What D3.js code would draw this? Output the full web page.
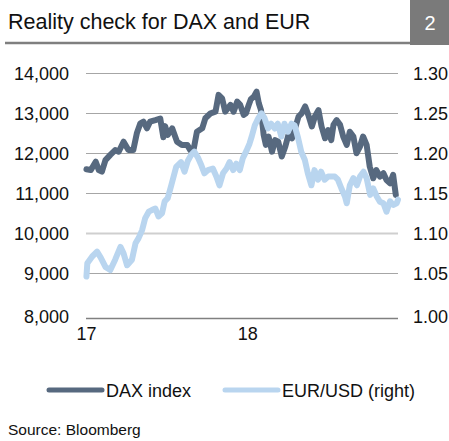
<!DOCTYPE html>
<html>
<head>
<meta charset="utf-8">
<script src="https://cdn.jsdelivr.net/npm/d3@7"></script>
<style>
  body { margin: 0; background: #fff; }
  svg { display: block; font-family: "Liberation Sans", Arial, sans-serif; }
</style>
</head>
<body>
<svg id="chart" width="449" height="441"></svg>
<script>
const WIDTH = 449;
const HEIGHT = 441;
const PLOT = { left: 86, right: 398, top: 73.3, bottom: 313.3, axis: 318.5 };
const DAX_COLOR = "#57697f";
const EUR_COLOR = "#b9d5ef";

const daxDates = ["2017-01-02","2017-01-12","2017-01-23","2017-01-30","2017-02-06","2017-02-14","2017-02-25","2017-03-08","2017-03-16","2017-03-27","2017-04-07","2017-04-18","2017-04-26","2017-05-04","2017-05-11","2017-05-19","2017-05-26","2017-06-07","2017-06-18","2017-06-25","2017-06-29","2017-07-05","2017-07-15","2017-07-26","2017-08-06","2017-08-18","2017-08-25","2017-09-02","2017-09-09","2017-09-21","2017-09-28","2017-10-10","2017-10-21","2017-10-28","2017-11-05","2017-11-12","2017-11-24","2017-12-01","2017-12-09","2017-12-16","2017-12-24","2017-12-29","2018-01-04","2018-01-09","2018-01-16","2018-01-22","2018-01-27","2018-02-01","2018-02-07","2018-02-12","2018-02-18","2018-02-26","2018-03-05","2018-03-12","2018-03-20","2018-03-28","2018-04-04","2018-04-12","2018-04-19","2018-04-27","2018-05-04","2018-05-12","2018-05-19","2018-05-27","2018-06-03","2018-06-11","2018-06-18","2018-06-26","2018-07-03","2018-07-10","2018-07-15","2018-07-22","2018-07-30","2018-08-06","2018-08-14","2018-08-21","2018-08-29","2018-09-05","2018-09-13","2018-09-20","2018-09-28","2018-10-05","2018-10-13","2018-10-20","2018-10-28","2018-11-05","2018-11-12","2018-11-20","2018-11-27","2018-12-03"];
const daxValues = [11600,11580,11790,11580,11540,11830,11960,12080,12040,12290,12080,12080,12500,12750,12790,12625,12790,12830,12870,12400,12680,12460,12625,12290,12210,12210,12080,12125,12540,12625,12875,13000,13040,13460,13375,13040,13210,13040,13290,13210,12960,13000,13200,13350,13420,13540,13250,13080,12460,12210,12420,12040,12330,12290,11920,12170,12460,12375,12625,12920,13000,13170,12960,12670,12920,13080,12670,12375,12580,12330,12710,12830,12710,12420,12210,12540,12420,12000,12170,12420,12210,11670,11375,11580,11420,11500,11330,11250,11460,10960];

const eurDates = ["2017-01-02","2017-01-04","2017-01-15","2017-01-26","2017-02-03","2017-02-14","2017-02-25","2017-03-08","2017-03-20","2017-03-27","2017-04-04","2017-04-15","2017-04-23","2017-04-30","2017-05-08","2017-05-15","2017-05-23","2017-05-30","2017-06-07","2017-06-14","2017-06-22","2017-06-28","2017-07-05","2017-07-13","2017-07-24","2017-08-04","2017-08-12","2017-08-19","2017-08-27","2017-09-03","2017-09-11","2017-09-19","2017-09-26","2017-10-04","2017-10-15","2017-10-23","2017-10-30","2017-11-07","2017-11-15","2017-11-22","2017-11-30","2017-12-07","2017-12-15","2017-12-22","2017-12-30","2018-01-06","2018-01-11","2018-01-18","2018-01-26","2018-02-02","2018-02-09","2018-02-17","2018-02-24","2018-03-04","2018-03-11","2018-03-19","2018-03-26","2018-04-03","2018-04-11","2018-04-18","2018-04-26","2018-05-03","2018-05-11","2018-05-18","2018-05-26","2018-06-02","2018-06-10","2018-06-17","2018-06-25","2018-07-03","2018-07-10","2018-07-18","2018-07-25","2018-08-02","2018-08-10","2018-08-14","2018-08-21","2018-08-29","2018-09-06","2018-09-13","2018-09-21","2018-09-28","2018-10-06","2018-10-13","2018-10-21","2018-10-28","2018-11-05","2018-11-12","2018-11-20","2018-11-27","2018-12-05","2018-12-08"];
const eurValues = [1.046,1.0625,1.071,1.077,1.070,1.058,1.054,1.067,1.083,1.075,1.060,1.067,1.0875,1.094,1.104,1.119,1.127,1.129,1.131,1.121,1.125,1.140,1.144,1.160,1.183,1.189,1.177,1.190,1.198,1.202,1.195,1.185,1.175,1.179,1.181,1.171,1.160,1.175,1.181,1.189,1.179,1.187,1.179,1.194,1.203,1.212,1.221,1.235,1.244,1.250,1.244,1.231,1.237,1.231,1.237,1.221,1.237,1.227,1.237,1.235,1.219,1.202,1.192,1.175,1.160,1.179,1.167,1.177,1.167,1.171,1.171,1.171,1.167,1.156,1.146,1.1375,1.160,1.169,1.160,1.171,1.177,1.169,1.148,1.156,1.146,1.1395,1.1375,1.127,1.140,1.1355,1.1375,1.142];

const leftTicks = [8000, 9000, 10000, 11000, 12000, 13000, 14000];
const rightTicks = [1.00, 1.05, 1.10, 1.15, 1.20, 1.25, 1.30];
const xTickDates = ["2017-01-01", "2018-01-01"];
const xTickLabels = ["17", "18"];

const title = "Reality check for DAX and EUR";
const chartNumber = "2";
const legendLabels = ["DAX index", "EUR/USD (right)"];
const source = "Source: Bloomberg";

const parse = d3.timeParse("%Y-%m-%d");
const dax = daxDates.map((d, i) => ({ date: parse(d), value: daxValues[i] }));
const eur = eurDates.map((d, i) => ({ date: parse(d), value: eurValues[i] }));

const svg = d3.select("#chart");

// header
svg.append("text")
  .attr("x", 8).attr("y", 29)
  .attr("font-size", 21.5).attr("fill", "#111")
  .text(title);
svg.append("line")
  .attr("x1", 5).attr("x2", 410).attr("y1", 43).attr("y2", 43)
  .attr("stroke", "#7f7f7f").attr("stroke-width", 2.5);
svg.append("rect")
  .attr("x", 410).attr("y", 0).attr("width", 39).attr("height", 45)
  .attr("fill", "#7a7a7a");
svg.append("text")
  .attr("x", 430).attr("y", 30).attr("text-anchor", "middle")
  .attr("font-size", 20).attr("fill", "#fff")
  .text(chartNumber);

// scales
let xScale = d3.scaleTime()
  .domain([parse("2017-01-01"), parse("2018-12-08")])
  .range([PLOT.left, PLOT.right]);
let yLeft = d3.scaleLinear().domain([8000, 14000]).range([PLOT.bottom, PLOT.top]);
let yRight = d3.scaleLinear().domain([1.00, 1.30]).range([PLOT.bottom, PLOT.top]);

// gridlines
svg.append("g").attr("id", "grid")
  .selectAll("line")
  .data(leftTicks.filter(t => t > 8000))
  .join("line")
  .attr("x1", PLOT.left).attr("x2", PLOT.right)
  .attr("y1", d => Math.round(yLeft(d)) + 0.5)
  .attr("y2", d => Math.round(yLeft(d)) + 0.5)
  .attr("stroke", d => d === 10000 ? "#cfcfcf" : "#a6a6a6")
  .attr("stroke-width", d => d === 10000 ? 2 : 1);

svg.append("line")
  .attr("x1", PLOT.left).attr("x2", PLOT.right)
  .attr("y1", PLOT.axis).attr("y2", PLOT.axis)
  .attr("stroke", "#808080").attr("stroke-width", 1.5);

// axes
const leftAxis = svg.append("g")
  .attr("transform", `translate(${PLOT.left - 17}, 0)`)
  .call(d3.axisLeft(yLeft).tickValues(leftTicks).tickSize(0).tickPadding(0).tickFormat(d3.format(",")));
const rightAxis = svg.append("g")
  .attr("transform", `translate(${PLOT.right + 15}, 0)`)
  .call(d3.axisRight(yRight).tickValues(rightTicks).tickSize(0).tickPadding(0).tickFormat(d3.format(".2f")));
const xAxis = svg.append("g")
  .attr("transform", `translate(0, ${PLOT.axis + 6})`)
  .call(d3.axisBottom(xScale).tickValues(xTickDates.map(parse)).tickSize(0).tickPadding(0)
    .tickFormat((d, i) => xTickLabels[i]));

for (let ax of [leftAxis, rightAxis, xAxis]) {
  ax.select(".domain").remove();
  ax.selectAll("text")
    .attr("font-family", "Liberation Sans, Arial, sans-serif")
    .attr("font-size", 18).attr("fill", "#111");
}
// lowest labels sit on the axis line, a little below the scale position
leftAxis.selectAll(".tick").filter(d => d === 8000).select("text").attr("dy", "0.5em");
rightAxis.selectAll(".tick").filter(d => d === 1.00).select("text").attr("dy", "0.5em");
xAxis.selectAll("text").attr("dy", "0.85em");

// series
const daxLine = d3.line().x(d => xScale(d.date)).y(d => yLeft(d.value));
const eurLine = d3.line().x(d => xScale(d.date)).y(d => yRight(d.value));

svg.append("path")
  .datum(dax)
  .attr("d", daxLine)
  .attr("fill", "none").attr("stroke", DAX_COLOR)
  .attr("stroke-width", 6).attr("stroke-linejoin", "round").attr("stroke-linecap", "round");

svg.append("path")
  .datum(eur)
  .attr("d", eurLine)
  .attr("fill", "none").attr("stroke", EUR_COLOR)
  .attr("stroke-width", 6).attr("stroke-linejoin", "round").attr("stroke-linecap", "round");

// legend
const legendX = [49, 225];
const legend = svg.append("g").selectAll("g")
  .data(legendLabels)
  .join("g")
  .attr("transform", (d, i) => `translate(${legendX[i]}, 390)`);
legend.append("line")
  .attr("x1", 0).attr("x2", 53).attr("y1", 0).attr("y2", 0)
  .attr("stroke", (d, i) => i === 0 ? DAX_COLOR : EUR_COLOR)
  .attr("stroke-width", 5).attr("stroke-linecap", "round");
legend.append("text")
  .attr("x", 57).attr("y", 6.5)
  .attr("font-size", 18).attr("fill", "#111")
  .text(d => d);

svg.append("text")
  .attr("x", 8).attr("y", 435)
  .attr("font-size", 15.5).attr("fill", "#111")
  .text(source);
</script>
</body>
</html>
